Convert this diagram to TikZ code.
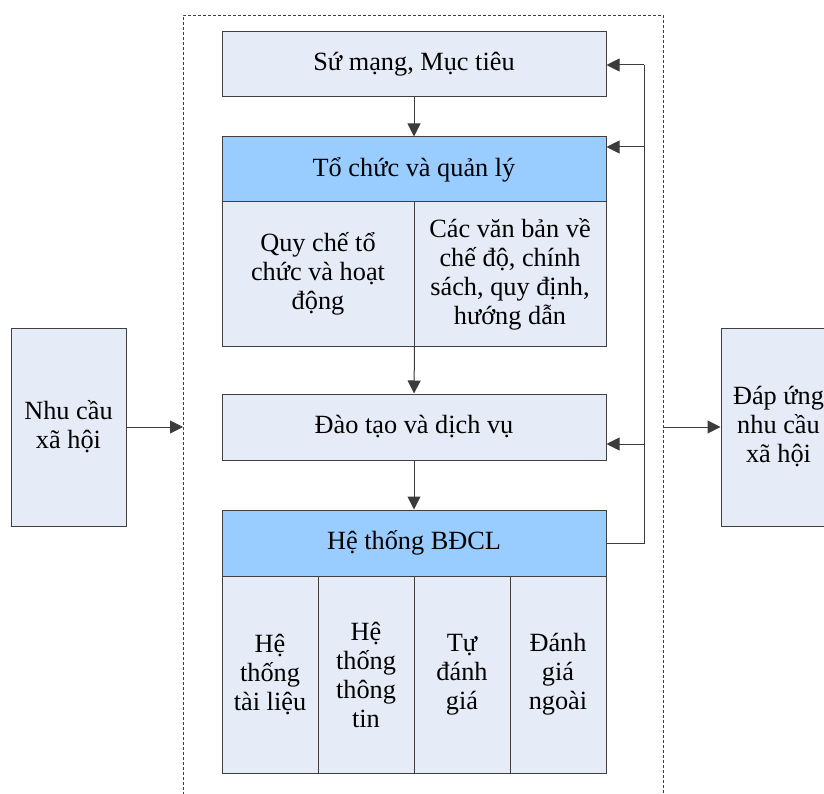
\documentclass[tikz,border=0pt]{standalone}
\usepackage{fontspec}
\setmainfont{Liberation Serif}
\usetikzlibrary{arrows.meta}
\definecolor{boxfill}{RGB}{230,236,247}
\definecolor{headfill}{RGB}{153,204,255}
\definecolor{edgec}{RGB}{64,64,64}
\definecolor{linec}{RGB}{60,60,60}
\begin{document}
\begin{tikzpicture}[x=1pt,y=-1pt,
  box/.style={draw=edgec, line width=1pt, fill=boxfill, inner sep=0pt, align=center,
              font=\fontsize{26.3}{29}\selectfont},
  head/.style={box, fill=headfill},
  arr/.style={-{Triangle[length=13pt,width=13pt]}, line width=1pt, draw=linec, fill=black},
  plain/.style={line width=1pt, draw=linec},
  frame/.style={draw=edgec, line width=0.8pt, dash pattern=on 3pt off 2pt}]
\useasboundingbox (0,0) rectangle (824,794);
% dashed frame
\draw[frame] (183,800) -- (183,15) -- (663,15) -- (663,800);
% main column
\node[box, minimum width=384pt, minimum height=65pt] (sm) at (414,64.5) {Sứ mạng, Mục tiêu};
\node[head, minimum width=384pt, minimum height=65pt] (tc) at (414,169.5) {Tổ chức và quản lý};
\node[box, minimum width=192pt, minimum height=144pt] (qc) at (318,274) {Quy chế tổ\\chức và hoạt\\động};
\node[box, minimum width=192pt, minimum height=144pt] (vb) at (510,274) {Các văn bản về\\chế độ, chính\\sách, quy định,\\hướng dẫn};
\node[box, minimum width=384pt, minimum height=66pt] (dt) at (414,427) {Đào tạo và dịch vụ};
\node[head, minimum width=384pt, minimum height=66pt] (bd) at (414,543) {Hệ thống BĐCL};
\node[box, minimum width=96pt, minimum height=197pt] (b1) at (270,674.5) {Hệ\\thống\\tài liệu};
\node[box, minimum width=96pt, minimum height=197pt] (b2) at (366,674.5) {Hệ\\thống\\thông\\tin};
\node[box, minimum width=96pt, minimum height=197pt] (b3) at (462,674.5) {Tự\\đánh\\giá};
\node[box, minimum width=96pt, minimum height=197pt] (b4) at (558,674.5) {Đánh\\giá\\ngoài};
% side boxes
\node[box, minimum width=115pt, minimum height=198pt] (nc) at (68.5,427) {Nhu cầu\\xã hội};
\node[box, minimum width=115pt, minimum height=198pt] (du) at (778.5,427) {Đáp ứng\\nhu cầu\\xã hội};
% coordinates
\coordinate (inL) at (183,427);
\coordinate (outR) at (663,427);
\coordinate (fb0) at (644,543);
\coordinate (f1) at (644,65);
\coordinate (f2) at (644,147);
\coordinate (f3) at (644,444);
% connectors
\draw[arr] (sm.south) -- (tc.north);
\draw[arr] (qc.south east) -- (dt.north);
\draw[arr] (dt.south) -- (bd.north);
\draw[arr] (nc.east) -- (inL);
\draw[arr] (outR) -- (du.west);
\draw[plain] (bd.east) -- (fb0) -- (f1);
\draw[arr] (f1) -- (f1 -| sm.east);
\draw[arr] (f2) -- (f2 -| tc.east);
\draw[arr] (f3) -- (f3 -| dt.east);
\end{tikzpicture}
\end{document}
